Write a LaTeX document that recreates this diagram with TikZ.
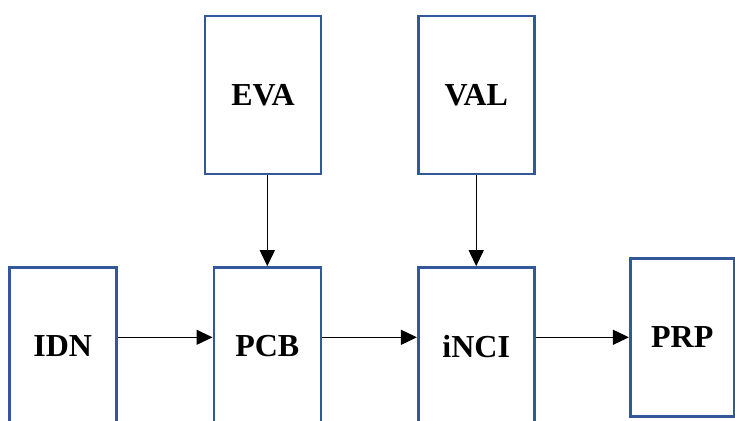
\documentclass[tikz,border=0pt]{standalone}
\usepackage{fontspec}
\setmainfont{Liberation Serif}
\usetikzlibrary{arrows.meta}
\definecolor{boxblue}{RGB}{50,88,154}
\begin{document}
\begin{tikzpicture}[x=1pt,y=-1pt,
  blockbox/.style={draw=boxblue, line width=2.6pt, rectangle, minimum height=158pt,
    inner sep=0pt, font=\fontsize{32}{32}\selectfont\bfseries, text=black},
  flowarrow/.style={draw=black, line width=1.2pt, -{Triangle[length=16pt,width=15pt]}}]
\clip (0,0) rectangle (735,420);
\useasboundingbox (0,0) rectangle (735,420);
\fill[white] (0,0) rectangle (735,420);
\node[blockbox, minimum width=116pt] (EVA) at (263,95) {EVA};
\node[blockbox, minimum width=116pt] (VAL) at (476.3,95) {VAL};
\node[blockbox, minimum width=107pt] (IDN) at (62.7,346.5) {IDN};
\node[blockbox, minimum width=107pt] (PCB) at (267.3,346.5) {PCB};
\node[blockbox, minimum width=116pt] (iNCI) at (476.2,346.5) {iNCI};
\node[blockbox, minimum width=104pt] (PRP) at (682.2,337.3) {PRP};
\draw[flowarrow] (EVA.south -| PCB.north) -- (PCB.north);
\draw[flowarrow] (VAL.south -| iNCI.north) -- (iNCI.north);
\draw[flowarrow] (IDN.east |- PRP.center) -- (PCB.west |- PRP.center);
\draw[flowarrow] (PCB.east |- PRP.center) -- (iNCI.west |- PRP.center);
\draw[flowarrow] (iNCI.east |- PRP.center) -- (PRP.west);
\end{tikzpicture}
\end{document}
